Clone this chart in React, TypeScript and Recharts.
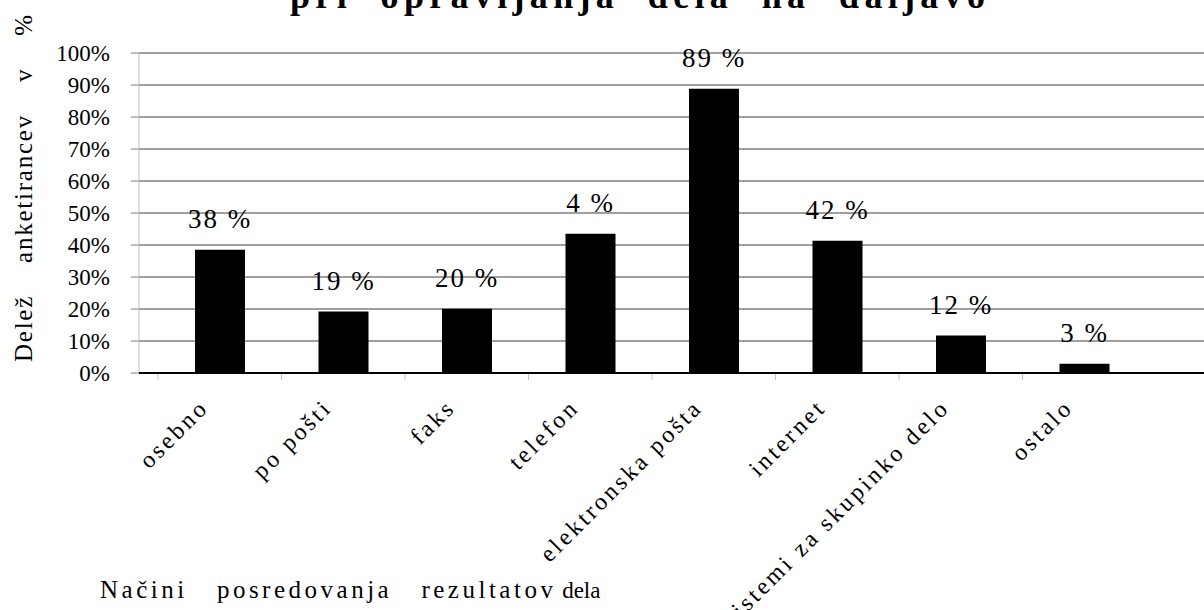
import React from "react";
import { BarChart, Bar, XAxis, YAxis, CartesianGrid, LabelList } from "recharts";

const categories = [
  "osebno",
  "po pošti",
  "faks",
  "telefon",
  "elektronska pošta",
  "internet",
  "sistemi za skupinko delo",
  "ostalo",
];
const shares = [38.5, 19.2, 20.1, 43.5, 88.8, 41.3, 11.7, 2.9];
const barLabels = ["38 %", "19 %", "20 %", "4 %", "89 %", "42 %", "12 %", "3 %"];
const yTicks = [0, 10, 20, 30, 40, 50, 60, 70, 80, 90, 100];

const titleText = "pri  opravljanja  dela  na  daljavo";
const yTitleText = "Delež    anketirancev    v    %";
const xTitleMain = "Načini   posredovanja   rezultatov";
const xTitleTail = " dela";

const data = categories.map((c, i) => ({ name: c, value: shares[i], label: barLabels[i] }));

const FONT = "Liberation Serif";

const XTick = (props: any) => {
  const { x, y, payload } = props;
  const half = payload && payload.offset ? payload.offset : 62;
  return (
    <g>
      <line x1={x - half} y1={y + 1} x2={x - half} y2={y + 7} stroke="#bfbfbf" strokeWidth={1} />
      <text
        x={0}
        y={0}
        transform={`translate(${x - 10},${y + 36}) rotate(-45)`}
        textAnchor="end"
        fontFamily={FONT}
        fontSize={24}
        letterSpacing={3}
        fill="#000"
      >
        {payload.value}
      </text>
    </g>
  );
};

const BarLabel = (props: any) => {
  const { x, y, width, value } = props;
  return (
    <text
      x={x + width / 2}
      y={y - 22}
      textAnchor="middle"
      fontFamily={FONT}
      fontSize={27}
      letterSpacing={2}
      fill="#000"
    >
      {value}
    </text>
  );
};

export default function App() {
  return (
    <div style={{ position: "absolute", left: 0, top: 0, width: 1204, height: 610, background: "#fff" }}>
      <BarChart
        width={1204}
        height={610}
        data={data}
        margin={{ top: 53, right: 0, bottom: 0, left: 0 }}
        barSize={50}
      >
        <CartesianGrid vertical={false} stroke="#7f7f7f" strokeWidth={1.3} />
        <YAxis
          width={139}
          domain={[0, 100]}
          ticks={yTicks}
          interval={0}
          tickFormatter={(v: number) => `${v}%`}
          axisLine={{ stroke: "#bfbfbf" }}
          tickLine={{ stroke: "#808080" }}
          tickSize={8}
          tickMargin={21}
          tick={{ fontFamily: FONT, fontSize: 23, fill: "#000" }}
        />
        <XAxis
          dataKey="name"
          height={237}
          interval={0}
          padding={{ left: 19, right: 58 }}
          axisLine={{ stroke: "#000", strokeWidth: 2 }}
          tickLine={false}
          tickSize={0}
          tickMargin={0}
          tick={<XTick />}
        />
        <Bar dataKey="value" fill="#000" isAnimationActive={false}>
          <LabelList dataKey="label" content={<BarLabel />} />
        </Bar>
        <text
          x={290}
          y={8}
          textLength={695}
          lengthAdjust="spacing"
          fontFamily={FONT}
          fontSize={36}
          fontWeight="bold"
          fill="#000"
          style={{ whiteSpace: "pre" }}
        >
          {titleText}
        </text>
        <text
          x={0}
          y={0}
          transform="translate(32,362) rotate(-90)"
          textLength={347}
          lengthAdjust="spacing"
          fontFamily={FONT}
          fontSize={25}
          fill="#000"
          style={{ whiteSpace: "pre" }}
        >
          {yTitleText}
        </text>
        <text x={100} y={598} fontFamily={FONT} fontSize={25} fill="#000" style={{ whiteSpace: "pre" }}>
          <tspan letterSpacing={3.5}>{xTitleMain}</tspan>
          <tspan fontSize={23} letterSpacing={0}>{xTitleTail}</tspan>
        </text>
      </BarChart>
    </div>
  );
}
